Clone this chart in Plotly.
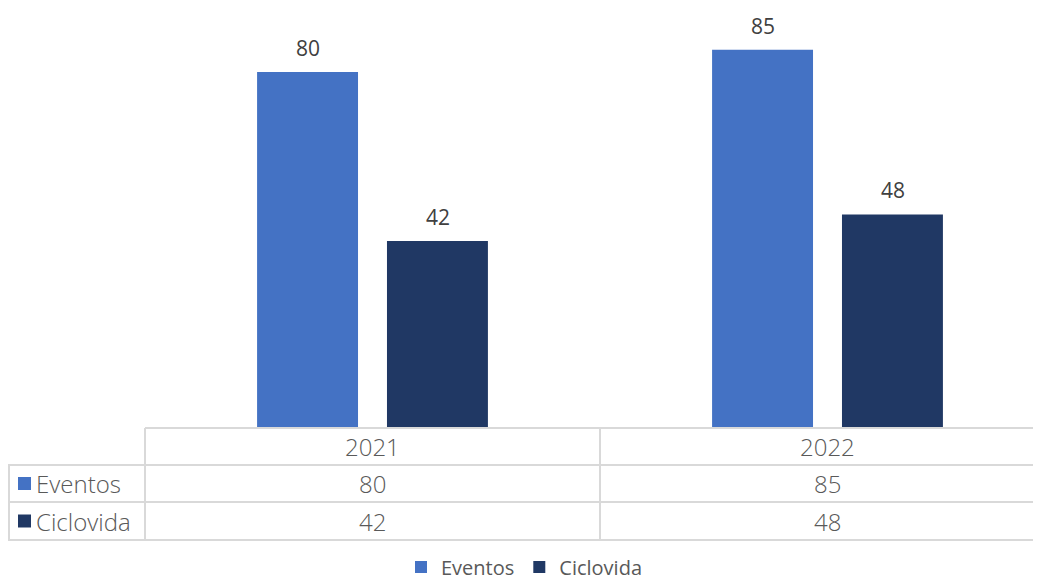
import plotly.graph_objects as go

# chart data
years = ["2021", "2022"]
series_names = ["Eventos", "Ciclovida"]
eventos = [80, 85]
ciclovida = [42, 48]
colors = ["#4472C4", "#203864"]

# the page body adds an 8px margin, so the figure is sized to fit what is visible
PAGE_OFF = 8
W, H = 1041 - PAGE_OFF, 584 - PAGE_OFF
X0, Y0 = 145, 428            # page pixels of the plot's left edge and baseline
L = X0 - PAGE_OFF
plot_h = Y0 - PAGE_OFF
B = H - plot_h
plot_w = W - L
SCALE = 4.45                 # px per unit
CAT_W = 455                  # px per category


def py(pix):
    # page pixel y -> paper y
    return (Y0 - pix) / plot_h


def px(pix):
    # page pixel x -> paper x
    return (pix - X0) / plot_w


xs = list(range(len(years)))
values = [eventos, ciclovida]

fig = go.Figure()
for name, vals, col in zip(series_names, values, colors):
    fig.add_trace(go.Bar(x=xs, y=vals, name=name, marker=dict(color=col, line=dict(width=0))))

# value labels above bars
offsets = [-65, 65]
for vals, off in zip(values, offsets):
    for xi, v in zip(xs, vals):
        fig.add_annotation(x=xi, y=v, xref="x", yref="y", text=str(v), showarrow=False,
                           xshift=off, yanchor="bottom", yshift=8,
                           font=dict(family="Open Sans", size=21, color="#404040"))

# data table below the plot
line_col = "#D9D9D9"
row_tops = [428, 465, 502, 540]
shapes = []
shapes.append(dict(type="line", xref="paper", yref="paper", x0=px(145), x1=1.05,
                   y0=py(428), y1=py(428), line=dict(color=line_col, width=2)))
for yy in row_tops[1:]:
    shapes.append(dict(type="line", xref="paper", yref="paper", x0=px(8), x1=1.05,
                       y0=py(yy), y1=py(yy), line=dict(color=line_col, width=2)))
shapes.append(dict(type="line", xref="paper", yref="paper", x0=px(9), x1=px(9),
                   y0=py(465), y1=py(540), line=dict(color=line_col, width=2)))
for xx in [px(145), px(600)]:
    shapes.append(dict(type="line", xref="paper", yref="paper", x0=xx, x1=xx,
                       y0=py(428), y1=py(540), line=dict(color=line_col, width=2)))

table_font = dict(family="Open Sans", size=24, color="#595959", weight=300)
row_mid = [(row_tops[i] + row_tops[i + 1]) / 2 for i in range(3)]
for xi, yr in zip(xs, years):
    fig.add_annotation(x=xi, y=py(row_mid[0]), xref="x", yref="paper", text=yr,
                       showarrow=False, yanchor="middle", font=table_font)
for r, (name, vals, col) in enumerate(zip(series_names, values, colors)):
    ym = py(row_mid[r + 1])
    fig.add_annotation(x=px(34), y=ym, xref="paper", yref="paper", text=name,
                       showarrow=False, xanchor="left", yanchor="middle", font=table_font)
    shapes.append(dict(type="rect", xref="paper", yref="paper", x0=px(18), x1=px(31),
                       y0=ym - 6.5 / plot_h, y1=ym + 6.5 / plot_h, fillcolor=col, line=dict(width=0)))
    for xi, v in zip(xs, vals):
        fig.add_annotation(x=xi, y=ym, xref="x", yref="paper", text=str(v),
                           showarrow=False, yanchor="middle", font=table_font)

fig.update_layout(
    width=W, height=H,
    margin=dict(l=L, r=0, t=0, b=B, autoexpand=False),
    paper_bgcolor="white", plot_bgcolor="white",
    barmode="group", bargap=0.429, bargroupgap=0.223,
    xaxis=dict(range=[-0.5, -0.5 + plot_w / CAT_W], showticklabels=False, showgrid=False,
               zeroline=False, showline=False, ticks=""),
    yaxis=dict(range=[0, plot_h / SCALE], visible=False, showgrid=False),
    shapes=shapes,
    legend=dict(orientation="h", x=px(524), xanchor="center", y=py(567), yanchor="middle",
                font=dict(family="Open Sans", size=20, color="#595959"), itemwidth=30),
    showlegend=True,
)

fig.write_html("out.html")
